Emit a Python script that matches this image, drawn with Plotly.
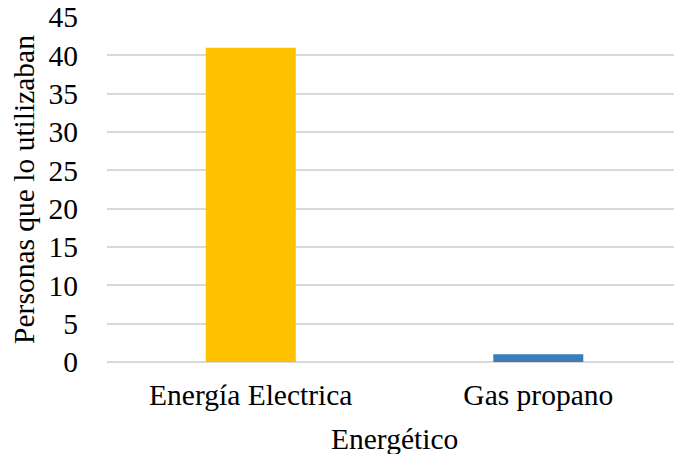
import plotly.graph_objects as go

# Energy sources and how many people used each one
categorias = ["Energía Electrica", "Gas propano"]
personas = [41, 1]
colores = ["#FFC000", "#3A7DB8"]

y_ticks = [0, 5, 10, 15, 20, 25, 30, 35, 40, 45]

FONT = "Liberation Serif, Times New Roman, serif"
FS = 29.5

fig = go.Figure(
    go.Bar(
        x=categorias,
        y=personas,
        marker=dict(color=colores, line=dict(width=0)),
        width=0.313,
    )
)

fig.update_layout(
    width=674,
    height=454,
    margin=dict(l=107, r=0, t=17, b=92),
    paper_bgcolor="white",
    plot_bgcolor="white",
    showlegend=False,
    font=dict(family=FONT, size=FS, color="black"),
    xaxis=dict(
        range=[-0.5, 1.472],
        showgrid=False,
        showline=False,
        zeroline=False,
        ticks="outside",
        ticklen=7,
        tickcolor="rgba(0,0,0,0)",
        tickfont=dict(family=FONT, size=FS, color="black"),
        fixedrange=True,
    ),
    yaxis=dict(
        range=[0, 45],
        tickvals=y_ticks,
        ticktext=[str(v) for v in y_ticks],
        showgrid=True,
        gridcolor="#D9D9D9",
        gridwidth=1.5,
        zeroline=True,
        zerolinecolor="#D9D9D9",
        zerolinewidth=1.5,
        showline=False,
        ticks="outside",
        ticklen=22,
        tickcolor="rgba(0,0,0,0)",
        tickfont=dict(family=FONT, size=FS, color="black"),
        title=dict(
            text="Personas que lo utilizaban",
            font=dict(family=FONT, size=FS, color="black"),
            standoff=5,
        ),
        fixedrange=True,
    ),
    annotations=[
        dict(
            text="Energético",
            xref="x",
            yref="paper",
            x=0.5,
            y=-0.222,
            xanchor="center",
            yanchor="middle",
            showarrow=False,
            font=dict(family=FONT, size=FS, color="black"),
        )
    ],
)

fig.write_html("out.html")
